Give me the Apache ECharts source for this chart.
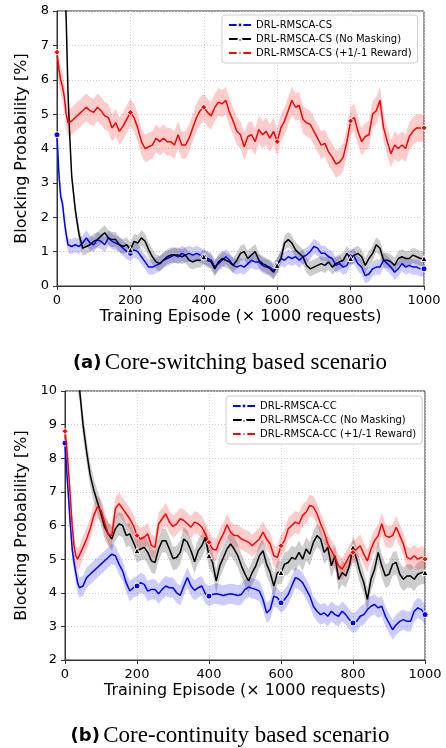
<!DOCTYPE html>
<html>
<head>
<meta charset="utf-8">
<script src="https://cdn.jsdelivr.net/npm/echarts@6/dist/echarts.min.js"></script>
<style>
  html, body { margin: 0; padding: 0; background: #fff; }
  #main { width: 446px; height: 748px; }
</style>
</head>
<body>
<div id="main"></div>
<script>
// training episode sample points (x 1000 requests)
const episodes = [0, 5, 10, 15, 20, 25, 30, 35, 40,
  50, 60, 70, 80, 90, 100, 110, 120, 130, 140,
  150, 160, 170, 180, 190, 200, 210, 220, 230, 240,
  250, 260, 270, 280, 290, 300, 310, 320, 330, 340,
  350, 360, 370, 380, 390, 400, 410, 420, 430, 440,
  450, 460, 470, 480, 490, 500, 510, 520, 530, 540,
  550, 560, 570, 580, 590, 600, 610, 620, 630, 640,
  650, 660, 670, 680, 690, 700, 710, 720, 730, 740,
  750, 760, 770, 780, 790, 800, 810, 820, 830, 840,
  850, 860, 870, 880, 890, 900, 910, 920, 930, 940,
  950, 960, 970, 980, 990, 1000]

// (a) core-switching
const csBase = [4.4, 3.3, 2.6, 2.4, 1.9, 1.5, 1.2, 1.15, 1.15,
  1.2, 1.15, 1.25, 1.4, 1.25, 1.2, 1.35, 1.3, 1.2, 1.4,
  1.3, 1.25, 1.2, 1.1, 1.0, 0.95, 1.05, 1.0, 0.85, 0.7,
  0.55, 0.55, 0.6, 0.65, 0.75, 0.8, 0.85, 0.9, 0.85, 0.95,
  0.9, 0.95, 0.9, 0.95, 0.9, 0.85, 0.8, 0.75, 0.55, 0.65,
  0.75, 0.85, 0.75, 0.6, 0.55, 0.6, 0.55, 0.65, 0.75, 0.7,
  0.7, 0.6, 0.55, 0.55, 0.45, 0.6, 0.8, 0.75, 0.85, 0.8,
  0.85, 0.75, 0.85, 0.9, 1.0, 1.15, 1.1, 0.95, 0.95, 0.85,
  0.8, 0.6, 0.65, 0.55, 0.6, 0.85, 0.85, 0.65, 0.55, 0.3,
  0.35, 0.5, 0.55, 0.55, 0.75, 0.65, 0.55, 0.4, 0.5, 0.65,
  0.55, 0.6, 0.55, 0.55, 0.5, 0.5]
const csNoMask = [16, 14, 12, 10.5, 9, 7.8, 5.6, 4.3, 3.2,
  2.2, 1.5, 1.1, 1.15, 1.2, 1.3, 1.35, 1.45, 1.55, 1.4,
  1.35, 1.35, 1.2, 1.15, 1.2, 1.05, 1.3, 1.25, 1.4, 1.3,
  1.05, 0.85, 0.7, 0.65, 0.75, 0.85, 0.9, 0.9, 0.9, 0.85,
  0.9, 0.75, 0.7, 0.75, 0.75, 0.85, 0.75, 0.7, 0.5, 0.7,
  0.8, 0.75, 0.7, 0.6, 0.75, 0.95, 1.0, 0.8, 0.9, 1.0,
  0.75, 0.65, 0.6, 0.5, 0.4, 0.6, 0.8, 1.25, 1.35, 1.25,
  1.05, 0.95, 0.85, 0.6, 0.5, 0.55, 0.6, 0.65, 0.6, 0.7,
  0.55, 0.65, 0.7, 0.75, 0.95, 0.8, 0.9, 0.95, 0.85, 0.6,
  0.8, 0.95, 1.2, 1.1, 0.75, 0.75, 0.7, 0.6, 0.8, 0.85,
  0.8, 0.8, 0.9, 0.85, 0.8, 0.8]
const csReward = [6.8, 6.3, 6.0, 5.8, 5.5, 5.0, 4.75, 4.75, 4.8,
  4.9, 5.0, 5.1, 5.2, 5.1, 5.05, 5.2, 5.1, 4.95, 4.9,
  4.6, 4.75, 4.5, 4.65, 4.85, 5.05, 4.9, 4.6, 4.2, 4.0,
  4.05, 4.1, 4.3, 4.2, 4.3, 4.2, 4.2, 4.1, 4.4, 4.1,
  4.1, 4.3, 4.6, 4.9, 5.1, 5.2, 5.05, 4.95, 5.2, 5.35,
  5.3, 5.4, 5.05, 4.8, 4.5, 4.4, 4.05, 4.35, 4.4, 4.2,
  4.55, 4.4, 4.5, 4.3, 4.5, 4.2, 4.6, 4.8, 5.1, 5.4,
  5.2, 5.25, 4.85, 4.75, 4.7, 4.5, 4.3, 4.1, 4.15, 3.9,
  3.75, 3.55, 3.6, 3.75, 4.2, 4.8, 4.9, 4.5, 4.2, 4.35,
  4.4, 5.0, 5.1, 5.4, 4.6, 4.2, 3.85, 4.1, 4.0, 4.1,
  4.0, 4.35, 4.5, 4.6, 4.6, 4.6]

// (b) core-continuity
const ccBase = [8.45, 7.6, 6.8, 6.0, 5.3, 4.9, 4.6, 4.3, 4.15,
  4.2, 4.45, 4.55, 4.65, 4.75, 4.85, 4.95, 5.05, 5.15, 5.1,
  4.85, 4.65, 4.3, 4.05, 4.15, 4.2, 4.3, 4.25, 4.05, 4.1,
  4.1, 3.97, 4.1, 4.2, 4.15, 4.15, 4.0, 3.92, 4.2, 4.45,
  4.2, 4.07, 4.15, 4.2, 3.97, 3.9, 3.95, 3.97, 3.95, 3.92,
  3.95, 3.97, 3.95, 3.92, 3.95, 4.1, 4.17, 4.13, 4.1, 4.05,
  3.8, 3.4, 3.5, 3.9, 3.85, 3.7, 3.8, 3.95, 4.2, 4.45,
  4.4, 4.3, 4.1, 3.9, 3.6, 3.45, 3.35, 3.4, 3.3, 3.45,
  3.35, 3.3, 3.45, 3.35, 3.2, 3.1, 3.15, 3.3, 3.35, 3.5,
  3.6, 3.65, 3.55, 3.6, 3.3, 3.1, 2.9, 3.05, 3.15, 3.2,
  3.15, 3.15, 3.45, 3.55, 3.5, 3.35]
const ccNoMask = [15, 14.2, 13.4, 12.6, 11.9, 11.2, 10.7, 10.3, 10.1,
  9.0, 8.2, 7.5, 7.05, 6.7, 6.35, 5.95, 5.75, 5.6, 5.9,
  6.05, 6.0, 5.7, 5.75, 5.5, 5.25, 5.3, 5.35, 5.2, 4.95,
  4.9, 5.3, 5.55, 5.55, 5.3, 5.02, 5.05, 5.2, 5.6, 5.5,
  5.25, 4.92, 5.25, 5.4, 5.65, 5.1, 4.9, 4.35, 4.8, 5.05,
  5.3, 5.45, 5.3, 5.1, 4.8, 4.55, 4.35, 4.6, 4.8, 5.1,
  5.25, 4.85, 4.6, 4.2, 4.6, 4.6, 4.85, 4.9, 5.05, 5.0,
  5.2, 5.0, 5.3, 5.15, 5.5, 5.7, 5.6, 5.2, 5.35, 4.8,
  5.1, 4.4, 4.6, 4.5, 4.8, 5.35, 5.0, 4.6, 4.3, 3.8,
  4.4, 4.7, 5.2, 4.8, 4.5, 4.55, 4.85, 4.9, 4.55, 4.4,
  4.5, 4.5, 4.4, 4.55, 4.6, 4.6]
const ccReward = [8.8, 8.3, 7.6, 6.8, 6.0, 5.4, 5.1, 5.0, 5.05,
  5.35, 5.6, 5.9, 6.3, 6.55, 6.45, 6.1, 5.75, 5.7, 6.5,
  6.65, 6.5, 6.35, 6.2, 6.0, 5.7, 5.6, 5.65, 5.75, 5.4,
  5.35, 6.05, 6.2, 6.35, 6.1, 5.97, 6.05, 6.2, 6.15, 6.05,
  5.95, 6.1, 6.05, 5.95, 5.75, 5.5, 5.3, 5.27, 5.55, 5.75,
  6.02, 5.8, 5.7, 5.7, 5.6, 5.55, 5.5, 5.4, 5.5, 5.6,
  5.8, 5.6, 5.45, 5.1, 5.05, 5.4, 5.55, 5.9, 6.0, 6.1,
  6.05, 6.3, 6.4, 6.6, 6.55, 6.35, 6.05, 5.8, 5.45, 5.25,
  5.05, 4.8, 4.7, 4.9, 5.1, 5.2, 5.3, 5.4, 5.15, 4.95,
  5.3, 5.55, 5.7, 6.05, 5.7, 5.65, 5.7, 5.95, 5.7, 5.45,
  5.05, 5.0, 5.1, 5.0, 5.05, 5.0]

// half width of the shaded bands: [base, no masking, +1/-1 reward]
const csSpread = [0.22, 0.22, 0.4]
const ccSpread = [0.3, 0.35, 0.33]

const csNames = ['DRL-RMSCA-CS', 'DRL-RMSCA-CS (No Masking)', 'DRL-RMSCA-CS (+1/-1 Reward)']
const ccNames = ['DRL-RMSCA-CC', 'DRL-RMSCA-CC (No Masking)', 'DRL-RMSCA-CC (+1/-1 Reward)']
const xTicks = [0, 1000, 200]

const colors = ['#0000ff', '#000000', '#ff0000']
const fills = ['rgba(0,0,255,0.2)', 'rgba(0,0,0,0.2)', 'rgba(255,0,0,0.2)']
const symbols = ['circle', 'triangle', 'diamond']
const FONT = 'DejaVu Sans'

// shaded band drawn as one polygon through the axes' coordinates
function band(vals, spread, fill, axis) {
  return {
    type: 'custom', xAxisIndex: axis, yAxisIndex: axis, silent: true, z: 1, clip: true,
    data: [[500, 5]],
    renderItem: (params, api) => {
      const upper = episodes.map((x, i) => api.coord([x, vals[i] + spread]))
      const lower = episodes.map((x, i) => api.coord([x, vals[i] - spread])).reverse()
      return { type: 'polygon', shape: { points: upper.concat(lower) }, style: { fill } }
    }
  }
}

function line(name, vals, k, axis) {
  return {
    name, type: 'line', xAxisIndex: axis, yAxisIndex: axis,
    data: episodes.map((x, i) => [x, vals[i]]),
    symbol: symbols[k], showAllSymbol: true,
    symbolSize: (v) => (v[0] % 200 === 0 ? 6 : 0),
    lineStyle: { color: colors[k], width: 1.5 },
    itemStyle: { color: colors[k], borderColor: '#fff', borderWidth: 1 },
    z: 3 + k
  }
}

const csData = [csBase, csNoMask, csReward]
const ccData = [ccBase, ccNoMask, ccReward]

const series = []
csData.forEach((d, k) => series.push(band(d, csSpread[k], fills[k], 0)))
ccData.forEach((d, k) => series.push(band(d, ccSpread[k], fills[k], 1)))
csData.forEach((d, k) => series.push(line(csNames[k], d, k, 0)))
ccData.forEach((d, k) => series.push(line(ccNames[k], d, k, 1)))

const gridLine = { show: true, lineStyle: { type: [1, 2], color: '#cfcfcf' } }

function xAxis(idx) {
  return {
    type: 'value', gridIndex: idx, min: xTicks[0], max: xTicks[1], interval: xTicks[2],
    name: 'Training Episode (\u00d7 1000 requests)', nameLocation: 'middle', nameGap: 23,
    nameTextStyle: { fontFamily: FONT, fontSize: 16, color: '#000' },
    axisLine: { lineStyle: { color: '#333', width: 1 } },
    axisTick: { show: true, length: 4, lineStyle: { color: '#333' } },
    axisLabel: { fontFamily: FONT, fontSize: 13, color: '#000', margin: 8, formatter: (v) => String(v) },
    splitLine: gridLine
  }
}
function yAxis(idx, min, max, gap) {
  return {
    type: 'value', gridIndex: idx, min, max, interval: 1,
    name: 'Blocking Probability [%]', nameLocation: 'middle', nameGap: gap,
    nameTextStyle: { fontFamily: FONT, fontSize: 16, color: '#000' },
    axisLine: { show: true, lineStyle: { color: '#333', width: 1 } },
    axisTick: { show: true, length: 4, lineStyle: { color: '#333' } },
    axisLabel: { fontFamily: FONT, fontSize: 13, color: '#000', margin: 8 },
    splitLine: gridLine
  }
}
function legend(names, left, top) {
  return {
    data: names, orient: 'vertical', left, top,
    itemWidth: 22, itemHeight: 6, itemGap: 4,
    padding: [5, 6], backgroundColor: 'rgba(255,255,255,0.85)',
    borderColor: '#ccc', borderWidth: 1, borderRadius: 3,
    textStyle: { fontFamily: FONT, fontSize: 10, color: '#000' }
  }
}

const captionRich = {
  b: { fontFamily: FONT, fontWeight: 'bold', fontSize: 18, fill: '#000' },
  n: { fontFamily: 'Liberation Serif', fontSize: 23, fill: '#000' }
}

const chart = echarts.init(document.getElementById('main'))
chart.setOption({
  animation: false,
  backgroundColor: '#fff',
  grid: [
    { left: 57, top: 11, width: 367, height: 275, show: true, borderColor: '#333', borderWidth: 1 },
    { left: 65, top: 391, width: 360, height: 269, show: true, borderColor: '#333', borderWidth: 1 }
  ],
  xAxis: [xAxis(0), xAxis(1)],
  yAxis: [yAxis(0, 0, 8, 23), yAxis(1, 2, 10, 30)],
  legend: [legend(csNames, 222, 15), legend(ccNames, 226, 396)],
  graphic: [
    { type: 'text', x: 230, y: 363, style: { text: '{b|(a)} {n|Core-switching based scenario}', rich: captionRich, align: 'center', verticalAlign: 'middle' } },
    { type: 'text', x: 230, y: 736, style: { text: '{b|(b)} {n|Core-continuity based scenario}', rich: captionRich, align: 'center', verticalAlign: 'middle' } }
  ],
  series
})
</script>
</body>
</html>
